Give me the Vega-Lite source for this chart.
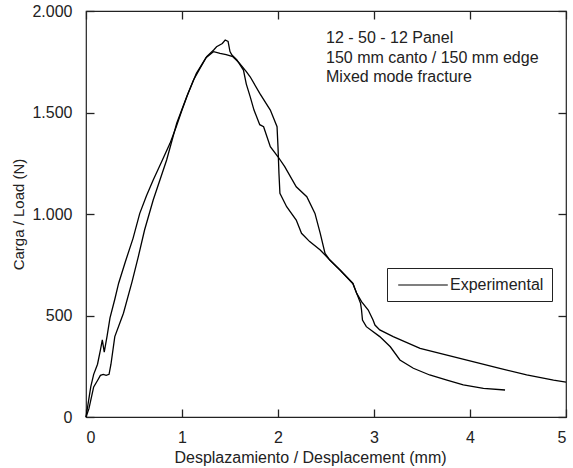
{
  "$schema": "https://vega.github.io/schema/vega-lite/v6.json",
  "width": 480,
  "height": 406,
  "autosize": {"type": "none"},
  "padding": {"left": 86, "top": 11, "right": 7, "bottom": 51},
  "background": "white",
  "config": {
    "font": "Liberation Sans",
    "view": {"stroke": "#222", "strokeWidth": 1.2},
    "axis": {"grid": false, "domain": false, "ticks": true, "tickColor": "#222", "tickSize": -8, "tickWidth": 1.3, "labelFont": "Liberation Sans", "labelFontSize": 16, "labelColor": "#222", "titleFont": "Liberation Sans", "titleFontSize": 16, "titleFontWeight": "normal", "titleColor": "#222"}
  },
  "resolve": {"axis": {"x": "independent", "y": "independent"}},
  "layer": [
    {
      "data": {"values": [
        {"t":"A","x":0,"y":0},{"t":"A","x":0.02,"y":60},{"t":"A","x":0.05,"y":150},{"t":"A","x":0.08,"y":210},{"t":"A","x":0.12,"y":260},{"t":"A","x":0.15,"y":330},{"t":"A","x":0.17,"y":380},{"t":"A","x":0.19,"y":320},{"t":"A","x":0.22,"y":400},{"t":"A","x":0.25,"y":488},{"t":"A","x":0.3,"y":580},{"t":"A","x":0.34,"y":659},{"t":"A","x":0.41,"y":765},{"t":"A","x":0.49,"y":880},{"t":"A","x":0.56,"y":1003},{"t":"A","x":0.63,"y":1090},{"t":"A","x":0.7,"y":1167},{"t":"A","x":0.79,"y":1260},{"t":"A","x":0.875,"y":1348},{"t":"A","x":0.94,"y":1430},{"t":"A","x":1.0,"y":1512},{"t":"A","x":1.06,"y":1590},{"t":"A","x":1.12,"y":1660},{"t":"A","x":1.19,"y":1720},{"t":"A","x":1.257,"y":1775},{"t":"A","x":1.33,"y":1808},{"t":"A","x":1.36,"y":1824},{"t":"A","x":1.42,"y":1840},{"t":"A","x":1.45,"y":1857},{"t":"A","x":1.48,"y":1850},{"t":"A","x":1.5,"y":1800},{"t":"A","x":1.52,"y":1783},{"t":"A","x":1.57,"y":1760},{"t":"A","x":1.64,"y":1709},{"t":"A","x":1.67,"y":1640},{"t":"A","x":1.71,"y":1578},{"t":"A","x":1.75,"y":1512},{"t":"A","x":1.81,"y":1440},{"t":"A","x":1.85,"y":1430},{"t":"A","x":1.92,"y":1332},{"t":"A","x":2.0,"y":1282},{"t":"A","x":2.07,"y":1233},{"t":"A","x":2.19,"y":1134},{"t":"A","x":2.3,"y":1085},{"t":"A","x":2.385,"y":1003},{"t":"A","x":2.44,"y":905},{"t":"A","x":2.49,"y":806},{"t":"A","x":2.54,"y":773},{"t":"A","x":2.646,"y":724},{"t":"A","x":2.78,"y":658},{"t":"A","x":2.82,"y":609},{"t":"A","x":2.87,"y":568},{"t":"A","x":2.94,"y":527},{"t":"A","x":2.99,"y":478},{"t":"A","x":3.01,"y":453},{"t":"A","x":3.06,"y":429},{"t":"A","x":3.2,"y":396},{"t":"A","x":3.48,"y":338},{"t":"A","x":3.76,"y":305},{"t":"A","x":4.03,"y":273},{"t":"A","x":4.31,"y":240},{"t":"A","x":4.59,"y":207},{"t":"A","x":4.87,"y":182},{"t":"A","x":5.0,"y":172},
        {"t":"B","x":0,"y":0},{"t":"B","x":0.03,"y":40},{"t":"B","x":0.08,"y":148},{"t":"B","x":0.12,"y":180},{"t":"B","x":0.15,"y":205},{"t":"B","x":0.18,"y":210},{"t":"B","x":0.21,"y":205},{"t":"B","x":0.24,"y":210},{"t":"B","x":0.26,"y":260},{"t":"B","x":0.3,"y":396},{"t":"B","x":0.39,"y":511},{"t":"B","x":0.48,"y":667},{"t":"B","x":0.545,"y":790},{"t":"B","x":0.61,"y":921},{"t":"B","x":0.7,"y":1069},{"t":"B","x":0.84,"y":1266},{"t":"B","x":0.945,"y":1447},{"t":"B","x":1.05,"y":1579},{"t":"B","x":1.15,"y":1693},{"t":"B","x":1.25,"y":1770},{"t":"B","x":1.33,"y":1800},{"t":"B","x":1.396,"y":1791},{"t":"B","x":1.46,"y":1785},{"t":"B","x":1.53,"y":1775},{"t":"B","x":1.6,"y":1742},{"t":"B","x":1.67,"y":1701},{"t":"B","x":1.71,"y":1676},{"t":"B","x":1.81,"y":1594},{"t":"B","x":1.92,"y":1512},{"t":"B","x":1.99,"y":1430},{"t":"B","x":2.0,"y":1330},{"t":"B","x":2.01,"y":1200},{"t":"B","x":2.02,"y":1102},{"t":"B","x":2.09,"y":1036},{"t":"B","x":2.19,"y":970},{"t":"B","x":2.245,"y":905},{"t":"B","x":2.33,"y":864},{"t":"B","x":2.44,"y":823},{"t":"B","x":2.54,"y":773},{"t":"B","x":2.646,"y":724},{"t":"B","x":2.78,"y":658},{"t":"B","x":2.82,"y":609},{"t":"B","x":2.86,"y":560},{"t":"B","x":2.87,"y":527},{"t":"B","x":2.88,"y":478},{"t":"B","x":2.92,"y":445},{"t":"B","x":3.06,"y":396},{"t":"B","x":3.17,"y":346},{"t":"B","x":3.27,"y":281},{"t":"B","x":3.41,"y":240},{"t":"B","x":3.58,"y":207},{"t":"B","x":3.76,"y":182},{"t":"B","x":3.93,"y":158},{"t":"B","x":4.14,"y":141},{"t":"B","x":4.365,"y":133}
      ]},
      "mark": {"type": "line", "strokeWidth": 1.3},
      "encoding": {
        "x": {"field": "x", "type": "quantitative", "scale": {"domain": [0, 5], "nice": false, "zero": false},
              "axis": {"values": [0, 1, 2, 3, 4, 5], "labelPadding": 20, "title": "Desplazamiento / Desplacement (mm)", "titlePadding": 4, "titleX": 224}},
        "y": {"field": "y", "type": "quantitative", "scale": {"domain": [0, 2000], "nice": false},
              "axis": {"values": [0, 500, 1000, 1500, 2000], "labelExpr": "replace(format(datum.value, ',.0f'), ',', '.')", "labelPadding": 22, "title": "Carga / Load (N)", "titleFontSize": 15, "titleX": -60}},
        "color": {"datum": "Experimental", "type": "nominal", "scale": {"range": ["black"]},
                  "legend": {"title": null, "orient": "none", "legendX": 301, "legendY": 257, "symbolType": "M-3.1,0H3.1", "symbolSize": 256, "symbolStrokeWidth": 1.2, "symbolOffset": 19, "strokeColor": "#222", "fillColor": "white", "padding": 8, "labelFontSize": 16, "labelColor": "#222", "labelOffset": 18}},
        "detail": {"field": "t"}
      }
    },
    {
      "data": {"values": [{}]},
      "mark": {"type": "text", "align": "left", "baseline": "top", "fontSize": 16, "lineHeight": 19.5, "color": "#222",
               "text": ["12 - 50 - 12 Panel", "150 mm canto / 150 mm edge", "Mixed mode fracture"]},
      "encoding": {
        "x": {"datum": 2.5, "type": "quantitative", "scale": {"domain": [0, 5], "nice": false, "zero": false},
              "axis": {"orient": "top", "values": [0, 1, 2, 3, 4, 5], "labels": false, "title": null}},
        "y": {"datum": 1904, "type": "quantitative", "scale": {"domain": [0, 2000], "nice": false},
              "axis": {"orient": "right", "values": [0, 500, 1000, 1500, 2000], "labels": false, "title": null}}
      }
    }
  ]
}
